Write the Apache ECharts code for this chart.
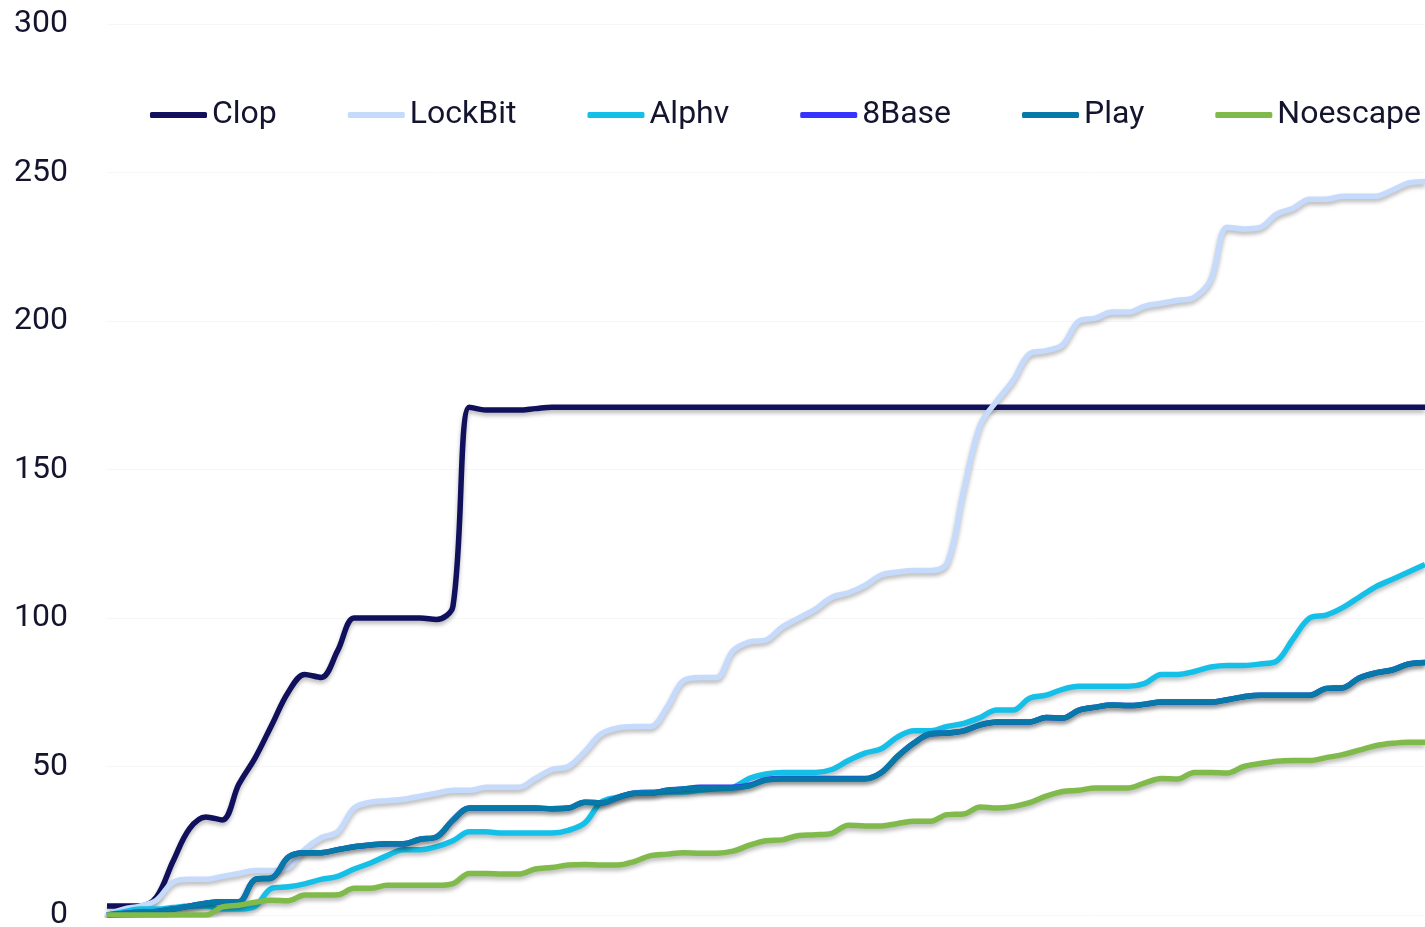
<!DOCTYPE html>
<html lang="en">
	<head>
		<meta charset="utf-8">
	</head>
	<body style="margin: 0; background: #fff">
		<div id="container" style="width: 1425px; height: 927px"></div>
		<script type="text/javascript" src="https://cdn.jsdelivr.net/npm/echarts@6/dist/echarts.min.js"></script>
		<script type="text/javascript">
			// x positions carry no labels in the picture, so plain indices
			const categories = Array.from({ length: 81 }, (_, i) => String(i + 1));

			const clop = [3, 3, 3, 6, 18, 29, 33, 32, 44, 53, 64, 75, 81, 80, 89, 100, 100, 100, 100, 100,
				99.5, 104, 171, 170, 170, 170, 170.5, 171, 171, 171, 171, 171, 171, 171, 171, 171, 171, 171, 171, 171,
				171, 171, 171, 171, 171, 171, 171, 171, 171, 171, 171, 171, 171, 171, 171, 171, 171, 171, 171, 171,
				171, 171, 171, 171, 171, 171, 171, 171, 171, 171, 171, 171, 171, 171, 171, 171, 171, 171, 171, 171, 171];
			const lockbit = [0, 2, 3, 5, 11, 12, 12, 13, 14, 15, 15, 16, 22, 26, 28, 36, 38, 38.5, 39, 40,
				41, 42, 42, 43, 43, 43, 46, 49, 50, 55, 61, 63, 63.5, 63.5, 70, 79, 80, 80, 89, 92,
				92.6, 97, 100, 103, 107, 108.5, 111, 114.5, 115.5, 116, 116, 118.5, 143, 165, 173, 180, 189, 190, 192, 200,
				201, 203, 203, 205, 206, 207, 208, 214, 231.6, 231, 231.5, 236, 238, 241, 241, 242, 242, 242, 244, 246.5, 247];
			const alphv = [0, 1, 2, 2, 2.5, 3, 3, 2, 2, 3, 9, 9.5, 10.5, 12, 13, 15.5, 17.5, 20, 22, 22,
				23, 25, 28, 28, 27.6, 27.6, 27.6, 27.6, 28.5, 31, 38, 39.7, 41, 41.4, 41.4, 41.4, 42, 42.5, 43, 46,
				47.5, 48, 48, 48, 49, 52, 54.5, 56, 60, 62, 62, 63.5, 64.5, 66.5, 69, 69, 73, 74, 76, 77,
				77, 77, 77, 78, 81, 81, 82, 83.5, 84, 84, 84.5, 85.5, 93, 100, 101, 103.5, 107, 110.5, 113, 115.5, 118];
			const base8 = [0, 0.5, 1, 1.2, 2, 3, 4, 4.5, 4.5, 12, 12.5, 19.5, 21, 21, 22, 23, 23.6, 24, 24, 25.5,
				26.3, 32, 36, 36, 36, 36, 36, 35.8, 36, 38, 37.7, 39.5, 41, 41, 42, 42.4, 43, 43, 43, 43.7,
				45.6, 46, 46, 46, 46, 46, 46, 48, 53.5, 58, 61, 61.3, 62, 64, 65, 65, 65, 66.5, 66.3, 69,
				70, 70.7, 70.5, 71, 71.7, 71.7, 71.7, 71.7, 72.5, 73.5, 74, 74, 74, 74, 76.3, 76.5, 79.8, 81.5, 82.5, 84.5, 85];
			const play = [0, 0.5, 1, 1.2, 2, 3, 4, 4.5, 4.5, 12, 12.5, 19.5, 21, 21, 22, 23, 23.6, 24, 24, 25.5,
				26.3, 32, 36, 36, 36, 36, 36, 35.8, 36, 38, 37.7, 39.5, 41, 41, 42, 42.4, 42.8, 42.8, 42.8, 43.5,
				45.4, 45.8, 45.8, 45.8, 45.8, 45.8, 45.8, 48, 53.5, 58, 61, 61.3, 62, 64, 65, 65, 65, 66.5, 66.3, 69,
				70, 70.7, 70.5, 71, 71.7, 71.7, 71.7, 71.7, 72.5, 73.5, 74, 74, 74, 74, 76.3, 76.5, 79.8, 81.5, 82.5, 84.5, 85];
			const noescape = [0, 0, 0, 0, 0, 0, 0, 2.7, 3.3, 4.3, 5, 4.8, 6.7, 6.7, 6.8, 9, 9, 10, 10, 10,
				10, 10.6, 14, 14, 13.8, 13.8, 15.5, 16, 16.8, 17, 16.8, 16.8, 18, 20, 20.5, 21, 20.8, 20.8, 21.5, 23.5,
				25, 25.3, 26.8, 27, 27.5, 30.2, 30, 30, 30.8, 31.6, 31.6, 33.8, 34, 36.4, 36, 36.5, 37.8, 40, 41.6, 42,
				42.8, 42.8, 42.8, 44.5, 46, 45.8, 48, 48, 47.8, 50, 51, 51.8, 52, 52, 53, 54, 55.5, 57, 57.8, 58.2, 58.2];

			const yTicks = [0, 50, 100, 150, 200, 250, 300];

			const names = ['Clop', 'LockBit', 'Alphv', '8Base', 'Play', 'Noescape'];
			const colors = ['#10105c', '#c6dafc', '#14c0e8', '#3535ff', '#0679a8', '#80ba4a'];
			const values = [clop, lockbit, alphv, base8, play, noescape];

			var myChart = echarts.init(document.getElementById('container'));
			var option = {
				animation: false,
				color: colors,
				textStyle: {
					fontFamily: 'Roboto',
					color: '#14142e'
				},
				legend: {
					top: 99,
					left: 150,
					padding: 0,
					itemGap: 71,
					itemWidth: 57,
					itemHeight: 6,
					icon: 'roundRect',
					textStyle: {
						fontSize: 32,
						color: '#14142e',
						fontFamily: 'Roboto'
					},
					data: names
				},
				grid: {
					left: 107,
					right: 0,
					top: 24,
					bottom: 12,
					outerBoundsMode: 'none'
				},
				xAxis: {
					type: 'category',
					boundaryGap: false,
					data: categories,
					axisLine: { show: false },
					axisTick: { show: false },
					axisLabel: { show: false }
				},
				yAxis: {
					type: 'value',
					min: yTicks[0],
					max: yTicks[yTicks.length - 1],
					interval: 50,
					axisLine: { show: false },
					axisTick: { show: false },
					axisLabel: {
						fontSize: 32,
						color: '#14142e',
						margin: 39,
						padding: [6, 0, 0, 0]
					},
					splitLine: {
						lineStyle: { color: '#f6f6f6', width: 1 }
					}
				},
				series: names.map(function (n, k) {
					return {
						name: n,
						type: 'line',
						smooth: 0.35,
						symbol: 'none',
						data: values[k],
						lineStyle: {
							width: 5.5,
							color: colors[k],
							shadowColor: 'rgba(0,0,0,0.28)',
							shadowBlur: 4,
							shadowOffsetY: 3
						}
					};
				})
			};
			myChart.setOption(option);
		</script>
	</body>
</html>
